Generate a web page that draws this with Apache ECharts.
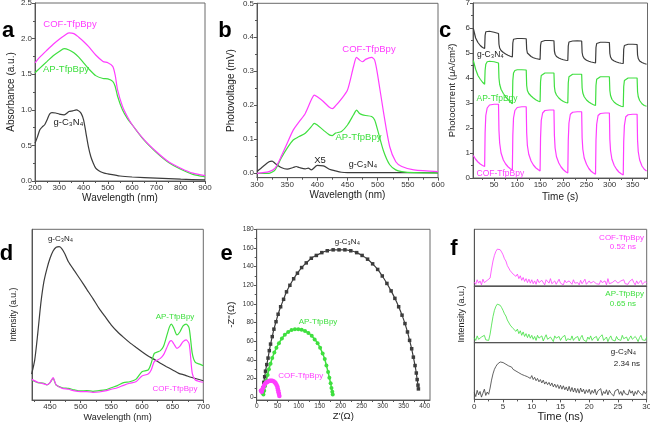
<!DOCTYPE html>
<html><head><meta charset="utf-8">
<script src="https://cdn.jsdelivr.net/npm/echarts@6/dist/echarts.min.js"></script>
<style>html,body{margin:0;padding:0;background:#fff}#c{width:650px;height:423px}</style>
</head><body><div id="c"></div>
<script>
// ---------------- DATA ----------------
// Panel a: UV-vis absorbance
const aPolyX = [200,220,250,275,300,320,340,360,380,400,420,450,480,500,520,530,540,560,580,600,650,700,750,800,850,900];
const aCOF   = [1.66,1.74,1.84,1.92,1.99,2.04,2.08,2.07,2.02,1.96,1.89,1.77,1.68,1.66,1.61,1.49,1.28,1.05,0.905,0.79,0.577,0.41,0.27,0.18,0.11,0.075];
const aAP    = [1.52,1.585,1.68,1.76,1.82,1.86,1.84,1.80,1.74,1.66,1.58,1.48,1.44,1.435,1.40,1.33,1.19,1.0,0.88,0.79,0.57,0.40,0.26,0.164,0.094,0.06];
const aCNX   = [200,210,220,230,240,250,260,270,285,300,320,340,355,370,380,390,400,410,420,430,440,450,460,470,485,500,550,600,700,800,900];
const aCN    = [0.53,0.62,0.72,0.76,0.79,0.86,0.94,0.96,0.955,0.94,0.93,0.975,0.985,1.0,0.985,0.95,0.86,0.67,0.48,0.34,0.25,0.18,0.15,0.13,0.11,0.10,0.07,0.056,0.04,0.025,0.015];

// Panel b: surface photovoltage
const bPolyX = [300,320,330,340,350,360,370,380,390,395,400,410,420,425,430,440,450,460,465,470,475,480,490,495,500,510,520,530,540,560,600];
const bCOF   = [0,0.005,0.015,0.049,0.088,0.127,0.152,0.176,0.216,0.230,0.225,0.211,0.194,0.190,0.198,0.219,0.245,0.314,0.341,0.333,0.328,0.335,0.341,0.333,0.289,0.176,0.078,0.034,0.02,0.01,0.005];
const bAP    = [0,0,0.01,0.044,0.074,0.098,0.108,0.118,0.137,0.147,0.142,0.127,0.113,0.111,0.118,0.123,0.142,0.172,0.186,0.176,0.172,0.170,0.167,0.157,0.127,0.064,0.025,0.01,0.005,0.002,0.001];
const bCNX   = [300,310,320,325,330,340,350,360,365,370,380,385,390,400,410,420,430,440,450,500,550,600];
const bCN    = [0.005,0.02,0.034,0.036,0.029,0.017,0.012,0.017,0.02,0.017,0.013,0.015,0.01,0.023,0.022,0.012,0.007,0.003,0.002,0.002,0.002,0.001];

// Panel c: transient photocurrent (light on at 30,90,...; off at 60,120,...)
const cTime = [5,10,15,20,25,29.5,
  30.5,32,35,40,50,59.5, 60.5,62,65,70,75,80,85,89.5,
  90.5,92,95,100,110,119.5, 120.5,122,125,130,135,140,145,149.5,
  150.5,152,155,160,170,179.5, 180.5,182,185,190,195,200,205,209.5,
  210.5,212,215,220,230,239.5, 240.5,242,245,250,255,260,265,269.5,
  270.5,272,275,280,290,299.5, 300.5,302,305,310,315,320,325,329.5,
  330.5,332,335,340,350,359.5, 360.5,362,365,370,375,380];
const cCN = [5.98,5.6,5.42,5.3,5.22,5.18,
  5.7,5.85,5.88,5.87,5.83,5.78, 5.35,5.2,5.1,5.02,4.96,4.91,4.87,4.84,
  5.4,5.55,5.58,5.58,5.58,5.57, 5.15,5.0,4.92,4.86,4.81,4.78,4.76,4.74,
  5.3,5.45,5.48,5.5,5.5,5.49, 5.08,4.95,4.86,4.8,4.76,4.73,4.71,4.7,
  5.28,5.44,5.47,5.48,5.49,5.48, 5.02,4.88,4.78,4.71,4.67,4.64,4.62,4.6,
  5.22,5.38,5.42,5.43,5.43,5.42, 4.98,4.84,4.74,4.68,4.64,4.61,4.59,4.58,
  5.15,5.3,5.34,5.35,5.35,5.34, 4.92,4.78,4.68,4.62,4.58,4.55];
const cAP = [4.7,4.35,4.1,3.95,3.83,3.75,
  4.3,4.55,4.65,4.67,4.65,4.6, 4.0,3.75,3.55,3.38,3.25,3.14,3.05,2.97,
  3.9,4.2,4.3,4.33,4.33,4.32, 3.7,3.5,3.38,3.28,3.2,3.13,3.08,3.05,
  3.85,4.1,4.18,4.2,4.2,4.2, 3.65,3.45,3.32,3.2,3.12,3.06,3.02,3.0,
  3.8,4.05,4.12,4.15,4.15,4.15, 3.6,3.4,3.25,3.12,3.04,2.98,2.93,2.9,
  3.7,3.95,4.03,4.05,4.05,4.05, 3.5,3.3,3.15,3.03,2.96,2.91,2.87,2.85,
  3.65,3.9,3.97,4.0,4.0,4.0, 3.45,3.25,3.1,2.97,2.9,2.87];
const cCOF = [0.9,0.75,0.64,0.56,0.5,0.46,
  1.8,2.5,2.8,2.92,2.95,2.95, 1.9,1.4,1.0,0.72,0.56,0.45,0.37,0.32,
  1.7,2.4,2.7,2.82,2.85,2.85, 1.8,1.3,0.95,0.68,0.52,0.41,0.34,0.28,
  1.6,2.3,2.6,2.7,2.72,2.72, 1.7,1.2,0.85,0.6,0.44,0.33,0.25,0.2,
  1.5,2.2,2.55,2.63,2.65,2.65, 1.6,1.15,0.8,0.55,0.38,0.27,0.2,0.15,
  1.5,2.15,2.5,2.58,2.6,2.6, 1.55,1.1,0.75,0.5,0.35,0.24,0.17,0.12,
  1.45,2.1,2.45,2.53,2.55,2.55, 1.5,1.05,0.72,0.48,0.35,0.28];

// Panel d: PL spectra (arbitrary units)
const dCNX = [420,425,430,435,440,445,450,455,460,465,470,475,480,490,500,510,520,530,540,550,560,570,580,590,600,610,620,630,640,650,660,670,680,690,700];
const dCN  = [15.2,23.4,39,56.6,69.3,77,83,87.3,89.5,89.8,88.3,85,81,75.6,70.3,64.8,59.4,53.7,48.8,43.9,40,36.7,33.6,30.9,28.3,25.8,23.8,21.5,19.5,17.6,15.6,14.6,13.3,12.3,11.3];
const dPolyX = [420,430,440,445,450,455,460,470,480,490,500,510,520,530,540,550,560,570,580,590,600,610,615,620,625,630,635,640,645,648,652,657,662,667,672,677,682,687,695,700];
const dAP  = [11.7,10.2,9.8,8.8,10.2,12.7,8.8,7.2,6.8,5.9,5.3,5.5,5.1,5.5,5.9,7.2,8.4,10.2,10.7,12.1,16.6,17.6,21.5,27.3,28.1,28.9,31.3,37.1,43,44.5,42,38.1,40,43.4,44.5,42,27.3,22,20.9,20.1];
const dCOF = [12.1,10.4,9.4,9.0,10.2,13.1,8.8,6.8,6.3,5.3,4.9,4.9,4.5,4.7,5.3,6.3,7.2,8.6,9.8,10.7,14.1,15.2,17.6,22.5,23.4,24.4,26.4,30.3,34.2,34.8,32.8,30.3,31.6,34.2,35.2,32.8,15.6,11.7,10.7,10.4];

// Panel e: Nyquist plots
const eCNX = [14,15,17,19,21,24,27,30,33,37,41,46,51,57,64,71,79,88,97,107,118,130,142,155,168,182,196,210,224,238,251,264,276,288,299,310,320,329,338,346,353,359,364,369,373,377,380,382,384,385];
const eCNY = [5,10,16,22,28,35,42,50,57,65,73,81,89,97,105,113,120,127,133,139,144,149,152,155,157,158,158,158,157,155,152,148,143,137,130,122,114,106,97,88,79,70,61,52,43,34,26,19,13,9];
const eAPX = [16,18,20,23,26,29,33,37,42,47,53,60,67,75,83,91,99,107,115,123,131,138,145,151,157,162,166,170,173,176,178,180,181];
const eAPY = [3,7,12,18,24,30,36,42,48,53,58,63,67,70,72,73,73,72.5,71,69,66,62,58,53,47,41,34,27,21,15,10,6,3];
const eCOFX = [10,12,13,15,17,19,22,25,28,31,34,37,40,43,45,47,49,50,51,52,53,54];
const eCOFY = [7,6,8,10,12,14,15.5,16.5,17.2,17.6,17.8,17.6,17.2,16.2,15,13.5,11.5,9.5,7.5,5.5,3.5,1.5];

// Panel f: TRPL decays (time step 0.25 ns, 0..30 ns)
const fStep = 0.25;
const fCOF = [7,3,11,5,9,2,12,6,4,10,7,
  14,30,44,54,61,65,66,64,60,55,48,44,36,34,27,29,21,24,17,21,13,18,10,15,8,13,6,12,5,11,
  4,9,3,12,6,4,10,7,2,11,8,5,13,4,7,9,3,6,12,5,
  8,2,10,6,4,9,7,3,11,5,8,6,2,10,4,7,12,3,6,9,
  5,2,8,11,4,7,3,10,6,5,9,2,13,4,7,6,3,10,8,5,
  2,9,6,11,4,7,3,8,5,12,6,2,9,4,7,10,3,6,8,5];
const fAP = [9,4,12,6,3,10,7,13,5,8,4,
  15,31,46,57,64,68,68,66,62,57,51,47,40,38,31,32,25,27,20,24,16,21,13,19,11,16,9,15,8,13,
  6,11,4,13,8,5,12,3,9,14,6,4,10,7,2,12,8,5,11,4,
  9,6,13,3,7,10,5,12,4,8,6,11,3,9,13,5,7,2,10,6,
  12,4,8,5,11,3,9,7,14,4,6,10,2,8,12,5,7,3,11,6,
  9,4,13,7,5,10,3,8,12,6,4,11,7,2,9,13,5,8,4,10];
const fCN = [12,5,16,8,14,4,11,18,7,13,9,
  20,34,45,53,58,62,64,66,66,65,63,62,60,59,56,57,53,54,50,52,47,50,44,47,42,45,40,43,37,42,
  35,39,33,37,31,35,29,34,27,31,26,30,24,29,22,27,21,26,19,25,18,24,17,22,15,23,14,21,13,20,12,19,11,20,13,18,10,17,12,18,
  9,16,11,18,8,15,12,19,7,14,10,17,8,16,11,13,6,15,12,18,
  9,14,7,16,10,13,8,17,11,15,6,14,9,16,12,13,7,15,10,14];

// ---------------- BUILD ----------------
const FF = '"Liberation Sans", Arial, Helvetica, sans-serif';
const MAG = '#ff3dff', GRN = '#3fdf3f', BLK = '#3c3c3c';
const grids = [], xAxes = [], yAxes = [], series = [], graphics = [];
const range = (a, b, s) => { const r = []; for (let v = a; v <= b + 1e-9; v += s) r.push(+v.toFixed(4)); return r; };

function addGrid(g) {
  grids.push(Object.assign({show: true, borderColor: '#6a6a6a', borderWidth: 1, backgroundColor: 'transparent', containLabel: false, outerBoundsMode: 'none'}, g));
  return grids.length - 1;
}
function addAxis(list, gi, pos, o) {
  const ax = {type: 'value', gridIndex: gi, position: pos, min: o.min, max: o.max,
    axisLine: {show: true, onZero: false, lineStyle: {color: '#555', width: 1}},
    axisTick: {show: o.ticks !== null, inside: false, length: 3, lineStyle: {color: '#555'}, customValues: o.ticks || []},
    axisLabel: {show: !!o.labels, fontSize: o.fs || 8, color: '#333', margin: o.margin || 3, fontFamily: FF,
      customValues: o.ticks || [], formatter: o.fmt || (v => String(v))},
    splitLine: {show: false}};
  if (o.name) { ax.name = o.name; ax.nameLocation = 'middle'; ax.nameGap = o.nameGap;
    ax.nameTextStyle = {fontSize: o.nfs || 10, color: '#222', fontFamily: FF}; }
  list.push(ax);
  const idx = list.length - 1;
  if (o.minor) {
    list.push({type: 'value', gridIndex: gi, position: pos, min: o.min, max: o.max,
      axisLine: {show: false, onZero: false}, axisTick: {show: true, length: 2, lineStyle: {color: '#555'}, customValues: o.minor},
      axisLabel: {show: false}, splitLine: {show: false}});
  }
  return idx;
}
function addLine(xi, yi, xs, ys, color, extra) {
  series.push(Object.assign({type: 'line', xAxisIndex: xi, yAxisIndex: yi, data: xs.map((x, i) => [x, ys[i]]),
    showSymbol: false, symbol: 'none', lineStyle: {color: color, width: 1.2}, itemStyle: {color: color},
    smooth: 0.25, animation: false, silent: true, z: 3}, extra || {}));
}
function txt(x, y, t, color, fs, align, extra) {
  graphics.push({type: 'text', x: x, y: y, silent: true, z: 10,
    style: Object.assign({text: t, fill: color, fontSize: fs, fontFamily: FF, align: align || 'center', verticalAlign: 'middle'}, extra || {})});
}

// Panel a
let g = addGrid({left: 35, top: 3, width: 170, height: 178});
let xi = addAxis(xAxes, g, 'bottom', {min: 200, max: 900, ticks: range(200, 900, 100), minor: range(250, 850, 100), labels: true, name: 'Wavelength (nm)', nameGap: 11});
let yi = addAxis(yAxes, g, 'left', {min: 0, max: 2.5, ticks: range(0, 2.5, 0.5), minor: range(0.25, 2.25, 0.5), labels: true, fmt: v => v.toFixed(1), name: 'Absorbance (a.u.)', nameGap: 19});
addLine(xi, yi, aCNX, aCN, BLK);
addLine(xi, yi, aPolyX, aAP, GRN);
addLine(xi, yi, aPolyX, aCOF, MAG);
txt(70, 24, 'COF-TfpBpy', MAG, 9.5); txt(66, 69, 'AP-TfpBpy', GRN, 9.5); txt(68.5, 122, 'g-C₃N₄', '#222', 9.5);

// Panel b
g = addGrid({left: 257, top: 3.3, width: 181, height: 174.4});
xi = addAxis(xAxes, g, 'bottom', {min: 300, max: 600, ticks: range(300, 600, 50), minor: range(325, 575, 50), labels: true, name: 'Wavelength (nm)', nameGap: 13});
yi = addAxis(yAxes, g, 'left', {min: -0.013, max: 0.5, ticks: range(0, 0.5, 0.1), minor: range(0.05, 0.45, 0.1), labels: true, fmt: v => v.toFixed(1), name: 'Photovoltage (mV)', nameGap: 21});
addLine(xi, yi, bCNX, bCN, BLK);
addLine(xi, yi, bPolyX, bAP, GRN);
addLine(xi, yi, bPolyX, bCOF, MAG);
txt(369, 49, 'COF-TfpBpy', MAG, 9.5); txt(358.5, 137, 'AP-TfpBpy', GRN, 9.5);
txt(320, 160.5, 'X5', '#222', 9.5); txt(363, 165, 'g-C₃N₄', '#222', 9);

// Panel c
g = addGrid({left: 473, top: 3, width: 174.5, height: 175});
xi = addAxis(xAxes, g, 'bottom', {min: 4.3, max: 382, ticks: range(50, 350, 50), minor: range(25, 375, 50), labels: true, name: 'Time (s)', nameGap: 14});
yi = addAxis(yAxes, g, 'left', {min: 0, max: 7, ticks: range(0, 7, 1), minor: range(0.5, 6.5, 1), labels: true, name: 'Photocurrent (μA/cm²)', nameGap: 16, nfs: 9.5});
addLine(xi, yi, cTime, cCN, BLK, {smooth: false});
addLine(xi, yi, cTime, cAP, GRN, {smooth: false});
addLine(xi, yi, cTime, cCOF, MAG, {smooth: false});
txt(477, 54.5, 'g-C₃N₄', '#222', 8.5, 'left'); txt(476.5, 99, 'AP-TfpBpy', GRN, 8.5, 'left'); txt(476.5, 174, 'COF-TfpBpy', MAG, 8.5, 'left');

// Panel d
g = addGrid({left: 32, top: 229.3, width: 171.3, height: 170.7});
xi = addAxis(xAxes, g, 'bottom', {min: 420.6, max: 700, ticks: range(450, 700, 50), minor: range(425, 675, 50), labels: true, name: 'Wavelength (nm)', nameGap: 13, nfs: 9});
yi = addAxis(yAxes, g, 'left', {min: 0, max: 100, ticks: null, labels: false, name: 'Intensity (a.u.)', nameGap: 14, nfs: 8.5});
addLine(xi, yi, dCNX, dCN, BLK);
addLine(xi, yi, dPolyX, dAP, GRN);
addLine(xi, yi, dPolyX, dCOF, MAG);
txt(60.5, 239, 'g-C₃N₄', '#222', 8); txt(175, 317, 'AP-TfpBpy', GRN, 8); txt(175, 389, 'COF-TfpBpy', MAG, 8);

// Panel e
g = addGrid({left: 256.7, top: 229.3, width: 173.3, height: 170.7});
xi = addAxis(xAxes, g, 'bottom', {min: 0, max: 412.6, ticks: range(0, 400, 50), minor: range(25, 375, 50), labels: true, fs: 6.5, name: "Z'(Ω)", nameGap: 11, nfs: 9.5});
yi = addAxis(yAxes, g, 'left', {min: -2.9, max: 180, ticks: range(0, 180, 20), minor: range(10, 170, 20), labels: true, fs: 6.5, name: "-Z''(Ω)", nameGap: 20, nfs: 9.5});
addLine(xi, yi, eCNX, eCNY, BLK, {smooth: 0.2, showSymbol: true, symbol: 'rect', symbolSize: 3.5});
addLine(xi, yi, eAPX, eAPY, GRN, {smooth: 0.2, showSymbol: true, symbol: 'circle', symbolSize: 4, lineStyle: {color: GRN, width: 1.5}});
addLine(xi, yi, eCOFX, eCOFY, MAG, {smooth: 0.2, showSymbol: true, symbol: 'circle', symbolSize: 4.5, lineStyle: {color: MAG, width: 2.5}});
txt(347.3, 241.7, 'g-C₃N₄', '#222', 8); txt(318, 321.7, 'AP-TfpBpy', GRN, 8); txt(300.7, 376, 'COF-TfpBpy', MAG, 8);

// Panel f (three stacked sub-plots)
const fTime = fCOF.map((_, i) => i * fStep);
const fTops = [229.3, 286, 342.7];
const fData = [[fCOF, MAG], [fAP, GRN], [fCN, BLK]];
fTops.forEach((top, k) => {
  const gi = addGrid({left: 474.3, top: top, width: 172.4, height: 56.7});
  const last = k === 2;
  const xk = addAxis(xAxes, gi, 'bottom', {min: 0, max: 30, ticks: last ? range(0, 30, 5) : null, minor: last ? range(2.5, 27.5, 5) : null,
    labels: last, name: last ? 'Time (ns)' : null, nameGap: 8, nfs: 11});
  const yk = addAxis(yAxes, gi, 'left', {min: 0, max: 100, ticks: null, labels: false});
  addLine(xk, yk, fTime, fData[k][0], fData[k][1], {smooth: false, lineStyle: {color: fData[k][1], width: 0.8}});
});
txt(461.5, 314, 'Intensity (a.u.)', '#222', 9, 'center', {}); 
graphics[graphics.length - 1].rotation = Math.PI / 2;
txt(644, 237.3, 'COF-TfpBpy', MAG, 8, 'right'); txt(636, 246.7, '0.52 ns', MAG, 8, 'right');
txt(644, 294, 'AP-TfpBpy', GRN, 8, 'right'); txt(636, 303.3, '0.65 ns', GRN, 8, 'right');
txt(636, 351.7, 'g-C₃N₄', '#222', 8, 'right'); txt(640, 363.3, '2.34 ns', '#222', 8, 'right');

// Panel letters
const LF = {fontWeight: 'bold', verticalAlign: 'alphabetic'};
txt(8, 20, 'a', '#000', 22, 'center', LF);
txt(225, 20, 'b', '#000', 22, 'center', LF);
txt(445, 20, 'c', '#000', 22, 'center', LF);
txt(6.5, 243, 'd', '#000', 22, 'center', LF);
txt(226.5, 243, 'e', '#000', 22, 'center', LF);
txt(454, 238, 'f', '#000', 22, 'center', LF);

const chart = echarts.init(document.getElementById('c'), null, {renderer: 'canvas'});
chart.setOption({animation: false, backgroundColor: '#fff', grid: grids, xAxis: xAxes, yAxis: yAxes, series: series, graphic: graphics});
</script></body></html>
